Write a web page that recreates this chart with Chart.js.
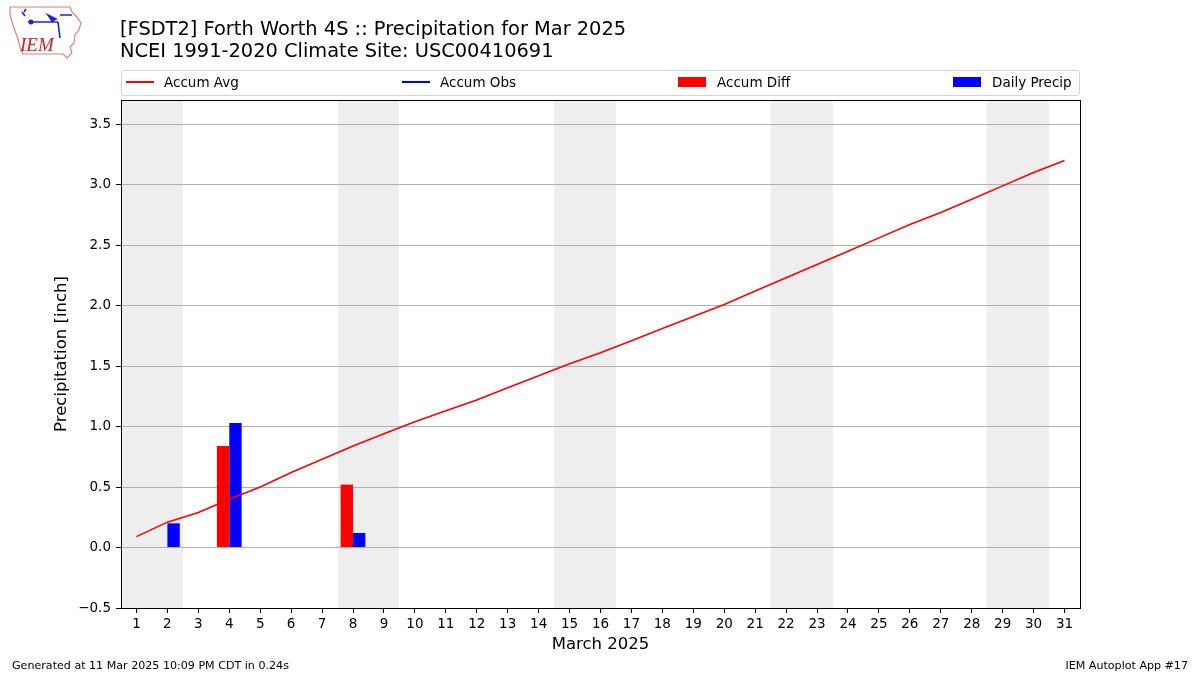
<!DOCTYPE html>
<html>
<head>
<meta charset="utf-8">
<script src="https://cdn.jsdelivr.net/npm/chart.js@4.4.1/dist/chart.umd.min.js"></script>
<style>
  body { margin: 0; background: #fff; font-family: "DejaVu Sans", sans-serif; }
  #wrap { position: relative; width: 1200px; height: 675px; overflow: hidden; }
  #myChart { position: absolute; left: 0; top: 0; }
  .title { position: absolute; left: 120px; top: 18px; font-size: 19.4px; line-height: 22px; color: #000; white-space: nowrap; }
  .legend { position: absolute; left: 121px; top: 70px; width: 957px; height: 24px; border: 1px solid #d4d4d4; border-radius: 3px; background: #fff; }
  .item { position: absolute; top: -1px; height: 24px; line-height: 24px; font-size: 13.5px; white-space: nowrap; }
  .swatch { position: absolute; }
  .foot { position: absolute; top: 659px; font-size: 11.1px; white-space: nowrap; }
</style>
</head>
<body>
<div id="wrap">
  <canvas id="myChart" width="1200" height="675"></canvas>

  <svg width="80" height="60" style="position:absolute;left:6px;top:3px">
    <path d="M4,4 L64,4 L66,9 L71,14 L75,20 L73,27 L69,32 L68,40 L64,44 L66,50 L61,55 L57,51 L17,51 L14,44 L12,36 L9,28 L6,19 L4,11 Z" fill="none" stroke="#d98080" stroke-width="1.2"/>
    <path d="M16,9 L19,13 M20,6 L18,9 M22,19 L52,19 M52,19 L54,35 M42,12 L50,16 L46,18 Z M54,12 L66,12" stroke="#2222cc" stroke-width="1.6" fill="#2222cc"/>
    <circle cx="25" cy="19" r="2.5" fill="#2222cc"/>
    <text x="14" y="48" font-family="Liberation Serif, serif" font-style="italic" font-size="19" fill="#d42020">IEM</text>
  </svg>

  <div class="title">[FSDT2] Forth Worth 4S :: Precipitation for Mar 2025<br>NCEI 1991-2020 Climate Site: USC00410691</div>

  <div class="legend">
    <div class="swatch" style="left:4px;top:10px;width:28px;height:2px;background:#ff0000"></div>
    <div class="item" style="left:42px">Accum Avg</div>
    <div class="swatch" style="left:280px;top:10px;width:28px;height:2px;background:#0000ff"></div>
    <div class="item" style="left:318px">Accum Obs</div>
    <div class="swatch" style="left:556px;top:6px;width:28px;height:10px;background:#ff0000"></div>
    <div class="item" style="left:595px">Accum Diff</div>
    <div class="swatch" style="left:831px;top:6px;width:28px;height:10px;background:#0000ff"></div>
    <div class="item" style="left:870px">Daily Precip</div>
  </div>

  <div class="foot" style="left:12px">Generated at 11 Mar 2025 10:09 PM CDT in 0.24s</div>
  <div class="foot" style="right:12px">IEM Autoplot App #17</div>
</div>

<script>
// March 2025 days
var days = [1, 2, 3, 4, 5, 6, 7, 8, 9, 10, 11, 12, 13, 14, 15, 16, 17, 18, 19, 20, 21, 22, 23, 24, 25, 26, 27, 28, 29, 30, 31];

// accumulated climatology (inch)
var accumAvg = [0.09, 0.21, 0.29, 0.40, 0.50, 0.62, 0.73, 0.84, 0.94, 1.04, 1.13, 1.22, 1.32, 1.42, 1.52, 1.61,
    1.71, 1.81, 1.91, 2.01, 2.12, 2.23, 2.34, 2.45, 2.56, 2.67, 2.77, 2.88, 2.99, 3.10, 3.20];

// observed accumulation is not drawn in the picture
var accumObs = [];

var accumDiff = [null, null, null, 0.84, null, null, null, 0.52, null, null, null, null, null, null, null, null,
    null, null, null, null, null, null, null, null, null, null, null, null, null, null, null];

var dailyPrecip = [null, 0.20, null, 1.03, null, null, null, 0.12, null, null, null, null, null, null, null, null,
    null, null, null, null, null, null, null, null, null, null, null, null, null, null, null];

var yTicks = [-0.5, 0.0, 0.5, 1.0, 1.5, 2.0, 2.5, 3.0, 3.5];
var yMin = -0.5;
var yMax = 3.7;

// weekends get a gray band
var weekendShade = {
    id: 'weekendShade',
    beforeDraw: function (chart) {
        var ctx = chart.ctx;
        var area = chart.chartArea;
        var x = chart.scales.x;
        ctx.save();
        ctx.fillStyle = '#eeeeee';
        days.forEach(function (d) {
            var wd = new Date(2025, 2, d).getDay();
            if (wd == 0 || wd == 6) {
                var x0 = Math.round(x.getPixelForValue(d - 0.5));
                var x1 = Math.round(x.getPixelForValue(d + 0.5));
                ctx.fillRect(x0, area.top, x1 - x0, area.bottom - area.top);
            }
        });
        ctx.restore();
    }
};

// full box around the plot like matplotlib spines
var frame = {
    id: 'frame',
    afterDraw: function (chart) {
        var ctx = chart.ctx;
        var a = chart.chartArea;
        ctx.save();
        ctx.strokeStyle = '#000';
        ctx.lineWidth = 1;
        ctx.strokeRect(Math.round(a.left) + 0.5, Math.round(a.top) + 0.5, Math.round(a.right - a.left), Math.round(a.bottom - a.top));
        ctx.restore();
    }
};

var chart = new Chart(document.getElementById('myChart'), {
    data: {
        labels: days,
        datasets: [{
            type: 'line',
            label: 'Accum Avg',
            data: accumAvg,
            borderColor: '#ff0000',
            borderWidth: 1.6,
            pointRadius: 0,
            tension: 0
        }, {
            type: 'line',
            label: 'Accum Obs',
            data: accumObs,
            borderColor: '#0000ff',
            borderWidth: 1.6,
            pointRadius: 0
        }, {
            type: 'bar',
            label: 'Accum Diff',
            data: accumDiff,
            backgroundColor: '#ff0000',
            categoryPercentage: 0.8,
            barPercentage: 1.0
        }, {
            type: 'bar',
            label: 'Daily Precip',
            data: dailyPrecip,
            backgroundColor: '#0000ff',
            categoryPercentage: 0.8,
            barPercentage: 1.0
        }]
    },
    options: {
        responsive: false,
        animation: false,
        devicePixelRatio: 1,
        layout: { padding: { top: 100, right: 120, bottom: 0, left: 0 } },
        plugins: {
            legend: { display: false },
            title: { display: false },
            tooltip: { enabled: false }
        },
        scales: {
            x: {
                type: 'linear',
                min: 0.5,
                max: 31.5,
                offset: false,
                afterBuildTicks: function (s) {
                    s.ticks = days.map(function (d) { return { value: d }; });
                },
                afterFit: function (s) { s.height = 67; },
                grid: { offset: false, drawOnChartArea: false, tickLength: 5, tickColor: '#000' },
                border: { color: '#000', width: 1 },
                ticks: {
                    color: '#000',
                    padding: 3,
                    maxRotation: 0,
                    autoSkip: false,
                    font: { family: 'DejaVu Sans', size: 13.5 },
                    callback: function (v) { return v; }
                },
                title: {
                    display: true,
                    text: 'March 2025',
                    color: '#000',
                    font: { family: 'DejaVu Sans', size: 16.5 },
                    padding: { top: 0, bottom: 20 }
                }
            },
            y: {
                min: yMin,
                max: yMax,
                afterBuildTicks: function (s) {
                    s.ticks = yTicks.map(function (v) { return { value: v }; });
                },
                afterFit: function (s) { s.width = 121; },
                grid: { color: '#b0b0b0', lineWidth: 1, tickLength: 5, tickColor: '#000' },
                border: { color: '#000', width: 1 },
                ticks: {
                    color: '#000',
                    padding: 5,
                    font: { family: 'DejaVu Sans', size: 13.5 },
                    callback: function (v) { return v.toFixed(1).replace('-', '\u2212'); }
                },
                title: {
                    display: true,
                    text: 'Precipitation [inch]',
                    color: '#000',
                    font: { family: 'DejaVu Sans', size: 16.5 },
                    padding: { top: 52, bottom: 0 }
                }
            }
        }
    },
    plugins: [weekendShade, frame]
});
</script>
</body>
</html>
